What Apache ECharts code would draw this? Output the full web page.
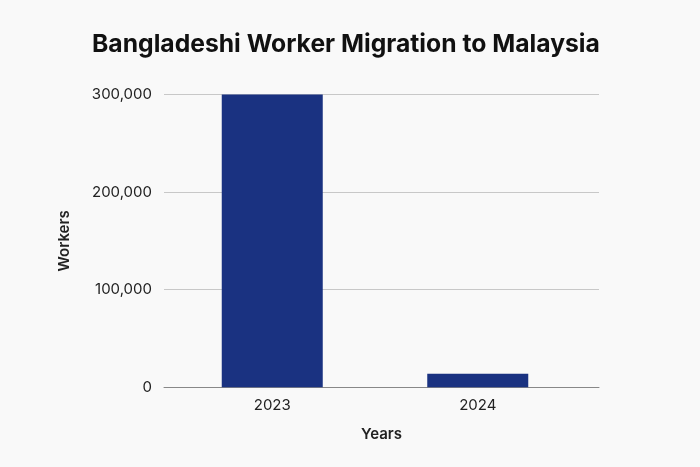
<!DOCTYPE html>
<html>
<head>
<meta charset="utf-8">
<script src="https://cdn.jsdelivr.net/npm/echarts@6/dist/echarts.min.js"></script>
<style>
html,body{margin:0;padding:0;background:#f9f9f9;}
#c{width:700px;height:467px;}
</style>
</head>
<body>
<div id="c"></div>
<script>
const categories = ['2023', '2024'];
const workers = [300000, 14000];
const yTicks = [0, 100000, 200000, 300000];

const font = 'Inter, "Noto Sans", sans-serif';
const chart = echarts.init(document.getElementById('c'));
chart.setOption({
  backgroundColor: '#f9f9f9',
  animation: false,
  title: {
    text: 'Bangladeshi Worker Migration to Malaysia',
    left: 87, top: 27,
    textStyle: { fontFamily: font, fontSize: 24.7, fontWeight: 'bold', color: '#111' }
  },
  grid: [
    { left: 164, right: 101, top: 94.5, bottom: 79.7 },
    { left: 169.5, right: 119.5, top: 94.5, bottom: 79.7 }
  ],
  xAxis: [
    {
      type: 'category', gridIndex: 0, data: categories,
      axisLine: { lineStyle: { color: '#888', width: 1 } },
      axisTick: { show: false }, axisLabel: { show: false },
      name: 'Years', nameLocation: 'middle', nameGap: 40,
      nameTextStyle: { fontFamily: font, fontSize: 15, fontWeight: 600, color: '#222' }
    },
    {
      type: 'category', gridIndex: 1, data: categories,
      axisLine: { show: false }, axisTick: { show: false },
      axisLabel: { fontFamily: font, fontSize: 15, color: '#222', margin: 11 }
    }
  ],
  yAxis: [
    {
      type: 'value', gridIndex: 0, min: 0, max: 300000, interval: 100000,
      axisLine: { show: false }, axisTick: { show: false },
      splitLine: { lineStyle: { color: '#c8c8c8', width: 1 } },
      axisLabel: {
        fontFamily: font, fontSize: 15, color: '#222', margin: 12,
        formatter: v => yTicks.includes(v) ? v.toLocaleString('en-US') : ''
      },
      name: 'Workers', nameLocation: 'middle', nameGap: 92,
      nameTextStyle: { fontFamily: font, fontSize: 15, fontWeight: 600, color: '#222' }
    },
    {
      type: 'value', gridIndex: 1, min: 0, max: 300000, interval: 100000, show: false
    }
  ],
  series: [{
    type: 'bar', xAxisIndex: 1, yAxisIndex: 1,
    data: workers, barWidth: 101,
    itemStyle: { color: '#1a3281' }
  }]
});
</script>
</body>
</html>
